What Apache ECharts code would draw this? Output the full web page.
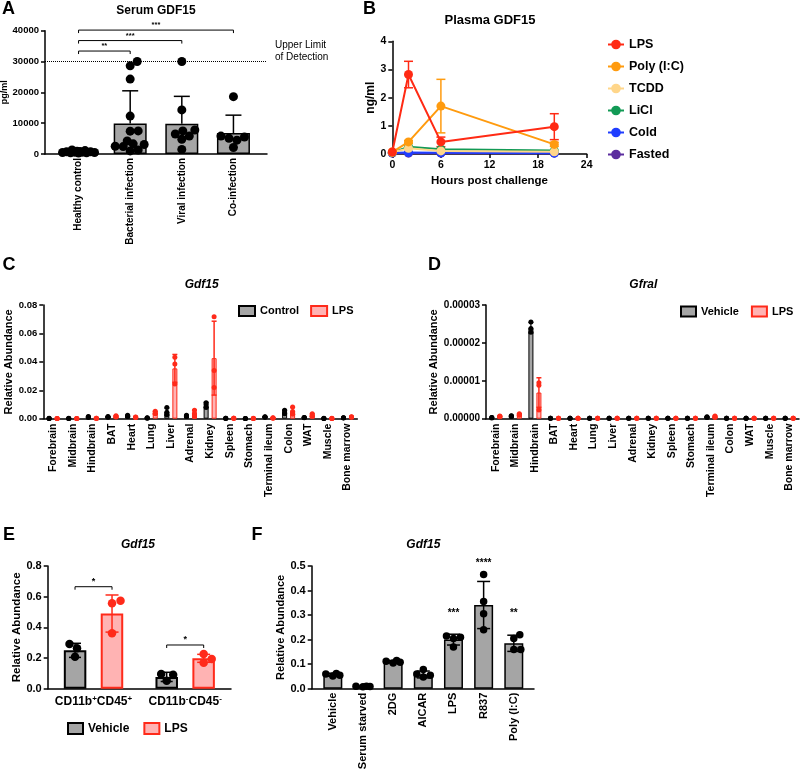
<!DOCTYPE html>
<html><head><meta charset="utf-8">
<script src="https://cdn.jsdelivr.net/npm/echarts@6/dist/echarts.min.js"></script>
<style>html,body{margin:0;padding:0;background:#fff}#c{width:800px;height:775px}</style>
</head><body><div id="c"></div>
<script>
// ---------------- Panel A : Serum GDF15 ----------------
const aCats = ['Healthy control', 'Bacterial infection', 'Viral infection', 'Co-infection'];
const aMeans = [650, 9900, 9800, 6800];
const aSD = [300, 10600, 8900, 5800];
const aDotsHealthy = [500, 800, 600, 300, 400, 500, 700, 400, 600, 900, 1100, 1300, 700];
const aDotsBacterial = [4200, 1300, 28600, 7400, 2500, 2400, 24300, 12300, 3300, 1000, 30000, 7500, 3100];
const aDotsViral = [4800, 7500, 7800, 30000, 14300, 1500, 5800, 6500];
const aDotsCo = [4500, 5800, 18600, 2100, 5500, 5100];
const aUpperLimit = 30000;
const aSigFrom = [0, 0, 0];
const aSigTo = [3, 2, 1];
const aSigY = [40200, 36800, 33400];
const aSigText = ['***', '***', '**'];
const aYTicks = [0, 40000, 10000];

// ---------------- Panel B : Plasma GDF15 ----------------
const bHours = [0, 2, 6, 20];
const bLPS = [0.07, 2.82, 0.43, 0.97];
const bLPSErr = [0, 0.47, 0.17, 0.46];
const bPoly = [0.07, 0.43, 1.70, 0.34];
const bPolyErr = [0, 0.05, 0.95, 0.07];
const bTCDD = [0.06, 0.20, 0.11, 0.08];
const bLiCl = [0.05, 0.26, 0.17, 0.12];
const bCold = [0.04, 0.05, 0.04, 0.03];
const bFasted = [0.03, 0.03, 0.03, 0.03];

// ---------------- Panel C : Gdf15 tissues ----------------
const tissues = ['Forebrain', 'Midbrain', 'Hindbrain', 'BAT', 'Heart', 'Lung', 'Liver', 'Adrenal', 'Kidney', 'Spleen', 'Stomach', 'Terminal ileum', 'Colon', 'WAT', 'Muscle', 'Bone marrow'];
const cCtrl = [0.0002, 0.0002, 0.0012, 0.0012, 0.0019, 0.0005, 0.0050, 0.0019, 0.0097, 0.0003, 0.0001, 0.0012, 0.0048, 0.0008, 0.0002, 0.0006];
const cCtrlSD = [0, 0, 0.0003, 0.0003, 0.0005, 0.0001, 0.0025, 0.0005, 0.0018, 0, 0, 0.0002, 0.0013, 0.0001, 0, 0.0001];
const cLPS = [0.0002, 0.0002, 0.0003, 0.0016, 0.0011, 0.0042, 0.0354, 0.0038, 0.0426, 0.0004, 0.0002, 0.0005, 0.0055, 0.0025, 0.0002, 0.0012];
const cLPSSD = [0, 0, 0.0001, 0.0005, 0.0002, 0.0009, 0.0098, 0.0023, 0.0260, 0, 0, 0.0001, 0.0025, 0.0009, 0, 0.0002];
const cCtrlDots = [[0.0002,0.0002,0.0003],[0.0002,0.0002,0.0003],[0.0015,0.0008,0.0012],[0.0015,0.0010,0.0012],[0.0025,0.0015,0.0018],[0.0006,0.0004,0.0005],[0.0078,0.0045,0.0028],[0.0025,0.0018,0.0015],[0.0112,0.0102,0.0078],[0.0003,0.0002,0.0003],[0.0001,0.0001,0.0002],[0.0014,0.0010,0.0012],[0.0060,0.0048,0.0035],[0.0009,0.0007,0.0008],[0.0002,0.0002,0.0003],[0.0007,0.0005,0.0006]];
const cLPSDots = [[0.0002,0.0001,0.0002],[0.0002,0.0001,0.0002],[0.0003,0.0002,0.0004],[0.0021,0.0014,0.0012],[0.0012,0.0009,0.0011],[0.0052,0.0040,0.0035],[0.0432,0.0385,0.0244],[0.0060,0.0038,0.0015],[0.0718,0.0340,0.0220],[0.0004,0.0003,0.0004],[0.0002,0.0002,0.0003],[0.0006,0.0004,0.0005],[0.0082,0.0050,0.0032],[0.0035,0.0022,0.0018],[0.0002,0.0002,0.0003],[0.0014,0.0010,0.0012]];

// ---------------- Panel D : Gfral tissues ----------------
const dVeh = [3e-7, 7e-7, 2.40e-5, 1e-7, 1e-7, 1e-7, 1e-7, 1e-7, 1e-7, 1e-7, 1e-7, 4e-7, 1e-7, 1e-7, 1e-7, 1e-7];
const dVehSD = [0, 1e-7, 1.4e-6, 0, 0, 0, 0, 0, 0, 0, 0, 1e-7, 0, 0, 0, 0];
const dLPS = [6e-7, 1.1e-6, 6.9e-6, 1e-7, 1e-7, 1e-7, 1e-7, 1e-7, 1e-7, 1e-7, 1e-7, 5e-7, 1e-7, 1e-7, 1e-7, 1e-7];
const dLPSSD = [1e-7, 2e-7, 3.9e-6, 0, 0, 0, 0, 0, 0, 0, 0, 2e-7, 0, 0, 0, 0];
const dVehDots = [[3e-7,2e-7,3e-7],[8e-7,6e-7,7e-7],[2.55e-5,2.38e-5,2.28e-5],[1e-7,1e-7,1e-7],[1e-7,1e-7,1e-7],[1e-7,1e-7,1e-7],[1e-7,1e-7,1e-7],[1e-7,1e-7,1e-7],[1e-7,1e-7,1e-7],[1e-7,1e-7,1e-7],[1e-7,1e-7,1e-7],[5e-7,3e-7,4e-7],[1e-7,1e-7,1e-7],[1e-7,1e-7,1e-7],[1e-7,1e-7,1e-7],[1e-7,1e-7,1e-7]];
const dLPSDots = [[7e-7,5e-7,6e-7],[1.3e-6,1.0e-6,1.0e-6],[9.5e-6,8.8e-6,2.3e-6],[1e-7,1e-7,1e-7],[1e-7,1e-7,1e-7],[1e-7,1e-7,1e-7],[1e-7,1e-7,1e-7],[1e-7,1e-7,1e-7],[1e-7,1e-7,1e-7],[1e-7,1e-7,1e-7],[1e-7,1e-7,1e-7],[7e-7,4e-7,4e-7],[1e-7,1e-7,1e-7],[1e-7,1e-7,1e-7],[1e-7,1e-7,1e-7],[1e-7,1e-7,1e-7]];

// ---------------- Panel E : sorted cells ----------------
const eCats = ['CD11b+CD45+', 'CD11b-CD45-'];
const eVeh = [0.25, 0.077];
const eVehSD = [0.046, 0.030];
const eLPS = [0.49, 0.198];
const eLPSSD = [0.121, 0.026];
const eVehDots = [[0.263, 0.209, 0.291], [0.052, 0.096, 0.091]];
const eLPSDots = [[0.557, 0.361, 0.574], [0.226, 0.170, 0.194]];
const eSigY = [0.665, 0.285];
const eSigText = ['*', '*'];

// ---------------- Panel F : treatments ----------------
const fCats = ['Vehicle', 'Serum starved', '2DG', 'AICAR', 'LPS', 'R837', 'Poly (I:C)'];
const fMeans = [0.057, 0.009, 0.110, 0.058, 0.200, 0.341, 0.185];
const fSD = [0.006, 0.002, 0.005, 0.014, 0.022, 0.096, 0.033];
const fDots = [[0.052, 0.062, 0.060, 0.055], [0.008, 0.010, 0.009, 0.010], [0.105, 0.115, 0.112, 0.108], [0.048, 0.055, 0.060, 0.078], [0.205, 0.170, 0.215, 0.210], [0.355, 0.305, 0.465, 0.240], [0.205, 0.160, 0.220, 0.160]];
const fSigCat = [4, 5, 6];
const fSigY = [0.306, 0.513, 0.306];
const fSigText = ['***', '****', '**'];

// ================= helpers =================
const FF = '"Liberation Sans", Arial, Helvetica, sans-serif';
const BLACK = '#000';
const GREY = '#a5a5a5';
const PINK = '#ffb3b3';
const RED = '#ff2a1a';
const isInt = v => Math.abs(v - Math.round(v)) < 1e-6;
const tl = (fs) => ({ fontFamily: FF, fontWeight: 'bold', fontSize: fs, color: BLACK });

function swarm(vals, ppu, diam, half) {
  const idx = vals.map((v, i) => i).sort((a, b) => vals[a] - vals[b]);
  const placed = [], offs = new Array(vals.length).fill(0);
  const cands = [0];
  for (let s = 0.5; s <= half + 1e-9; s += 0.5) cands.push(s, -s);
  idx.forEach(i => {
    const y = vals[i] * ppu;
    let best = 0, bestD = -1;
    for (const x of cands) {
      let md = Infinity;
      for (const p of placed) { const d = Math.hypot(p[0] - x, p[1] - y); if (d < md) md = d; }
      if (md >= diam) { best = x; bestD = md; break; }
      if (md > bestD) { bestD = md; best = x; }
    }
    placed.push([best, y]); offs[i] = best;
  });
  return offs;
}

function dotSeries(ai, groups, ppu, diam, half, dx, color, size) {
  const data = [];
  groups.forEach((vals, gi) => {
    const offs = swarm(vals, ppu, diam, half);
    vals.forEach((v, k) => data.push({ value: [gi, v], symbolOffset: [dx + offs[k], 0] }));
  });
  return { type: 'scatter', xAxisIndex: ai, yAxisIndex: ai, data, symbol: 'circle', symbolSize: size,
    itemStyle: { color, opacity: 1 }, silent: true, z: 4, clip: false, animation: false };
}

function errSeries(ai, items, dx, cap, color, lw, upperOnly) {
  return { type: 'custom', xAxisIndex: ai, yAxisIndex: ai, silent: true, z: 3, clip: false, animation: false,
    data: items, encode: { x: 0, y: [1, 2] },
    renderItem: (p, api) => {
      const x = api.value(0), lo = api.value(1), hi = api.value(2);
      const a = api.coord([x, lo]), b = api.coord([x, hi]);
      const cx = a[0] + dx, st = { stroke: color, lineWidth: lw };
      const ch = [
        { type: 'line', shape: { x1: cx, y1: a[1], x2: cx, y2: b[1] }, style: st },
        { type: 'line', shape: { x1: cx - cap / 2, y1: b[1], x2: cx + cap / 2, y2: b[1] }, style: st }
      ];
      if (!upperOnly) ch.push({ type: 'line', shape: { x1: cx - cap / 2, y1: a[1], x2: cx + cap / 2, y2: a[1] }, style: st });
      return { type: 'group', children: ch };
    } };
}

function meanSdItems(means, sds) {
  const out = [];
  means.forEach((m, i) => { if (sds[i] > 0) out.push([i, Math.max(0, m - sds[i]), m + sds[i]]); });
  return out;
}

function bracketSeries(ai, from, to, ys, texts, dxFrom, dxTo, fs) {
  return { type: 'custom', xAxisIndex: ai, yAxisIndex: ai, silent: true, z: 5, clip: false, animation: false,
    data: from.map((f, i) => [f, to[i], ys[i]]), encode: { x: [0, 1], y: 2 },
    renderItem: (p, api) => {
      const a = api.coord([api.value(0), api.value(2)]), b = api.coord([api.value(1), api.value(2)]);
      const x1 = a[0] + dxFrom, x2 = b[0] + dxTo, y = a[1];
      return { type: 'group', children: [
        { type: 'polyline', shape: { points: [[x1, y + 3], [x1, y], [x2, y], [x2, y + 3]] }, style: { stroke: BLACK, lineWidth: 1, fill: null } },
        { type: 'text', style: { text: texts[p.dataIndex], x: (x1 + x2) / 2, y: y - 1, align: 'center', verticalAlign: 'bottom',
          fontFamily: FF, fontSize: fs, fontWeight: 'bold', fill: BLACK } }
      ] };
    } };
}

function textSeries(ai, xs, ys, texts, fs) {
  return { type: 'custom', xAxisIndex: ai, yAxisIndex: ai, silent: true, z: 5, clip: false, animation: false,
    data: xs.map((x, i) => [x, ys[i]]), encode: { x: 0, y: 1 },
    renderItem: (p, api) => {
      const c = api.coord([api.value(0), api.value(1)]);
      return { type: 'text', style: { text: texts[p.dataIndex], x: c[0], y: c[1], align: 'center', verticalAlign: 'middle',
        fontFamily: FF, fontSize: fs, fontWeight: 'bold', fill: BLACK } };
    } };
}

const axLine = { show: true, onZero: false, lineStyle: { color: BLACK, width: 1.5 } };
const axTick = { show: true, length: 4, lineStyle: { color: BLACK, width: 1.5 } };

function yAx(gi, min, max, interval, fmt, name, gap, fs, nfs) {
  return { gridIndex: gi, type: 'value', min, max, interval, axisLine: axLine, axisTick: axTick,
    splitLine: { show: false }, axisLabel: Object.assign({ margin: 6, formatter: fmt }, tl(fs)),
    name, nameLocation: 'middle', nameGap: gap, nameTextStyle: tl(nfs) };
}

// ================= grids =================
const grids = [
  { left: 45, top: 30.7, width: 222, height: 123.3 },
  { left: 392.3, top: 41.3, width: 194.4, height: 112.7 },
  { left: 43.3, top: 305, width: 314, height: 113.7 },
  { left: 486, top: 305, width: 313, height: 113.7 },
  { left: 47.7, top: 566, width: 183.3, height: 122.7 },
  { left: 311.7, top: 566, width: 222.3, height: 122.7 }
].map(g => Object.assign({ containLabel: false, outerBoundsMode: 'none' }, g));

const xAxes = [
  { gridIndex: 0, type: 'value', min: -0.65, max: 3.65, minInterval: 1, maxInterval: 1, axisLine: axLine, axisTick: { show: false },
    splitLine: { show: false }, axisLabel: Object.assign({ rotate: 90, margin: 4, formatter: v => isInt(v) ? (aCats[Math.round(v)] || '') : '' }, tl(10)) },
  { gridIndex: 1, type: 'value', min: 0, max: 24, interval: 6, axisLine: axLine, axisTick: axTick, splitLine: { show: false },
    axisLabel: Object.assign({ margin: 6 }, tl(10.5)), name: 'Hours post challenge', nameLocation: 'middle', nameGap: 21, nameTextStyle: tl(11.5) },
  { gridIndex: 2, type: 'category', data: tissues, boundaryGap: true, axisLine: axLine, axisTick: { show: false },
    axisLabel: Object.assign({ rotate: 90, margin: 5, interval: 0 }, tl(10.5)) },
  { gridIndex: 3, type: 'category', data: tissues, boundaryGap: true, axisLine: axLine, axisTick: { show: false },
    axisLabel: Object.assign({ rotate: 90, margin: 5, interval: 0 }, tl(10.5)) },
  { gridIndex: 4, type: 'category', data: eCats, boundaryGap: true, axisLine: axLine, axisTick: { show: false },
    axisLabel: { margin: 6, interval: 0,
      formatter: v => v.split(/([+\-])/).map(t => (t === '+' || t === '-') ? '{s|' + t + '}' : (t ? '{n|' + t + '}' : '')).join(''),
      rich: { n: Object.assign({ lineHeight: 14 }, tl(12)), s: Object.assign({ lineHeight: 8, verticalAlign: 'top' }, tl(8)) } } },
  { gridIndex: 5, type: 'value', min: -0.7, max: 6.67, minInterval: 1, maxInterval: 1, axisLine: axLine, axisTick: { show: false },
    splitLine: { show: false }, axisLabel: Object.assign({ rotate: 90, margin: 4, formatter: v => isInt(v) ? (fCats[Math.round(v)] || '') : '' }, tl(11)) }
];

const yAxes = [
  yAx(0, aYTicks[0], aYTicks[1], aYTicks[2], v => String(v), 'pg/ml', 31, 9.5, 9),
  yAx(1, 0, 4, 1, v => String(v), 'ng/ml', 13, 10.5, 12),
  yAx(2, 0, 0.08, 0.02, v => v.toFixed(2), 'Relative Abundance', 25, 9.5, 11),
  yAx(3, 0, 0.00003, 0.00001, v => v.toFixed(5), 'Relative Abundance', 41, 10, 11),
  yAx(4, 0, 0.8, 0.2, v => v.toFixed(1), 'Relative Abundance', 23, 11, 11.5),
  yAx(5, 0, 0.5, 0.1, v => v.toFixed(1), 'Relative Abundance', 22, 11, 11)
];

const series = [];

// ---- A
series.push({ type: 'bar', name: 'A:bars', xAxisIndex: 0, yAxisIndex: 0, barWidth: 33, z: 2, animation: false,
  data: aMeans.map((m, i) => [i, m]), itemStyle: { color: GREY, borderColor: BLACK, borderWidth: 1.5 },
  markLine: { silent: true, symbol: 'none', animation: false, label: { show: false },
    lineStyle: { type: 'dotted', color: BLACK, width: 1 }, data: [{ yAxis: aUpperLimit }] } });
series.push(errSeries(0, aMeans.map((m, i) => [i, m, m + aSD[i]]), 0, 16, BLACK, 1.5, true));
series.push(dotSeries(0, [aDotsHealthy, aDotsBacterial, aDotsViral, aDotsCo], 123.3 / 40000, 8, 16, 0, BLACK, 9));
series.push(bracketSeries(0, aSigFrom, aSigTo, aSigY, aSigText, 0, 0, 7.5));

// ---- B
const bSets = [
  ['B:Fasted', bFasted, '#5b2d9e'],
  ['B:Cold', bCold, '#1f3dff'],
  ['B:LiCl', bLiCl, '#129a55'],
  ['B:TCDD', bTCDD, '#ffd68a'],
  ['B:Poly (I:C)', bPoly, '#ff9b0f'],
  ['B:LPS', bLPS, '#ff2a14']
];
bSets.forEach(([name, vals, color], k) => {
  series.push({ type: 'line', name, xAxisIndex: 1, yAxisIndex: 1, data: bHours.map((h, i) => [h, vals[i]]),
    symbol: 'circle', symbolSize: 9, z: 3 + k * 0.1, animation: false,
    lineStyle: { color, width: 2 }, itemStyle: { color, borderWidth: 0 } });
});
series.push(errSeries(1, bHours.map((h, i) => [h, bPoly[i] - bPolyErr[i], bPoly[i] + bPolyErr[i]]).filter((d, i) => bPolyErr[i] > 0), 0, 9, '#ff9b0f', 1.5, false));
series.push(errSeries(1, bHours.map((h, i) => [h, bLPS[i] - bLPSErr[i], bLPS[i] + bLPSErr[i]]).filter((d, i) => bLPSErr[i] > 0), 0, 9, '#ff2a14', 1.5, false));

// ---- C
series.push({ type: 'bar', name: 'C:Control', xAxisIndex: 2, yAxisIndex: 2, data: cCtrl, barWidth: 5, barGap: '60%', z: 2, animation: false,
  itemStyle: { color: GREY, borderColor: BLACK, borderWidth: 1 } });
series.push({ type: 'bar', name: 'C:LPS', xAxisIndex: 2, yAxisIndex: 2, data: cLPS, barWidth: 5, barGap: '60%', z: 2, animation: false,
  itemStyle: { color: PINK, borderColor: RED, borderWidth: 1 } });
series.push(errSeries(2, meanSdItems(cCtrl, cCtrlSD), -4, 5, BLACK, 1.2, false));
series.push(errSeries(2, meanSdItems(cLPS, cLPSSD), 4, 5, RED, 1.5, false));
series.push(dotSeries(2, cCtrlDots, 1, 1, 0, -4, BLACK, 5));
series.push(dotSeries(2, cLPSDots, 1, 1, 0, 4, RED, 5));

// ---- D
series.push({ type: 'bar', name: 'D:Vehicle', xAxisIndex: 3, yAxisIndex: 3, data: dVeh, barWidth: 5, barGap: '60%', z: 2, animation: false,
  itemStyle: { color: GREY, borderColor: BLACK, borderWidth: 1 } });
series.push({ type: 'bar', name: 'D:LPS', xAxisIndex: 3, yAxisIndex: 3, data: dLPS, barWidth: 5, barGap: '60%', z: 2, animation: false,
  itemStyle: { color: PINK, borderColor: RED, borderWidth: 1 } });
series.push(errSeries(3, meanSdItems(dVeh, dVehSD), -4, 5, BLACK, 1.2, false));
series.push(errSeries(3, meanSdItems(dLPS, dLPSSD), 4, 5, RED, 1.5, false));
series.push(dotSeries(3, dVehDots, 1, 1, 0, -4, BLACK, 5));
series.push(dotSeries(3, dLPSDots, 1, 1, 0, 4, RED, 5));

// ---- E
series.push({ type: 'bar', name: 'E:Vehicle', xAxisIndex: 4, yAxisIndex: 4, data: eVeh, barWidth: 22.5, barGap: '64%', z: 2, animation: false,
  itemStyle: { color: GREY, borderColor: BLACK, borderWidth: 2 } });
series.push({ type: 'bar', name: 'E:LPS', xAxisIndex: 4, yAxisIndex: 4, data: eLPS, barWidth: 22.5, barGap: '64%', z: 2, animation: false,
  itemStyle: { color: PINK, borderColor: RED, borderWidth: 2 } });
series.push(errSeries(4, meanSdItems(eVeh, eVehSD), -18.5, 12, BLACK, 1.5, false));
series.push(errSeries(4, meanSdItems(eLPS, eLPSSD), 18.5, 13, RED, 1.5, false));
series.push(dotSeries(4, eVehDots, 122.7 / 0.8, 8.5, 9, -18.5, BLACK, 8.5));
series.push(dotSeries(4, eLPSDots, 122.7 / 0.8, 8.5, 9, 18.5, RED, 8.5));
series.push(bracketSeries(4, [0, 1], [0, 1], eSigY, eSigText, -18.5, 18.5, 9));

// ---- F
series.push({ type: 'bar', name: 'F:bars', xAxisIndex: 5, yAxisIndex: 5, barWidth: 19, z: 2, animation: false,
  data: fMeans.map((m, i) => [i, m]), itemStyle: { color: GREY, borderColor: BLACK, borderWidth: 1.5 } });
series.push(errSeries(5, meanSdItems(fMeans, fSD), 0, 13, BLACK, 1.5, false));
series.push(dotSeries(5, fDots, 122.7 / 0.5, 7, 7, 0, BLACK, 7.5));
series.push(textSeries(5, fSigCat, fSigY, fSigText, 10));

// ================= text (letters, titles) =================
function T(text, x, y, font, align) {
  return { type: 'text', x, y, z: 100, silent: true,
    style: { text, font: font + ' ' + FF, fill: BLACK, align: align || 'center', verticalAlign: 'middle' } };
}
const graphic = [
  T('A', 8.5, 9.5, 'bold 18px'), T('B', 369.5, 9.5, 'bold 18px'), T('C', 9, 265, 'bold 18px'),
  T('D', 434.5, 265, 'bold 18px'), T('E', 9, 535, 'bold 18px'), T('F', 257, 535, 'bold 18px'),
  T('Serum GDF15', 156, 11, 'bold 12px'),
  T('Plasma GDF15', 490, 20, 'bold 13px'),
  T('Gdf15', 201.7, 285, 'italic bold 12px'),
  T('Gfral', 643.3, 285, 'italic bold 12px'),
  T('Gdf15', 138, 545, 'italic bold 12px'),
  T('Gdf15', 423.3, 545, 'italic bold 12px'),
  T('Upper Limit', 275, 45, '10px', 'left'),
  T('of Detection', 275, 57, '10px', 'left')
];

const legendText = fs => ({ fontFamily: FF, fontWeight: 'bold', fontSize: fs, color: BLACK });
const legends = [
  { data: ['B:LPS', 'B:Poly (I:C)', 'B:TCDD', 'B:LiCl', 'B:Cold', 'B:Fasted'], orient: 'vertical', left: 607, top: 38,
    itemWidth: 16, itemHeight: 12, itemGap: 9, padding: 0, selectedMode: false, formatter: n => n.slice(2), textStyle: legendText(12.5) },
  { data: ['C:Control', 'C:LPS'], left: 238, top: 305, icon: 'rect', itemWidth: 16, itemHeight: 10, itemGap: 11, padding: 0,
    selectedMode: false, formatter: n => n.slice(2), textStyle: legendText(11) },
  { data: ['D:Vehicle', 'D:LPS'], left: 680, top: 305.5, icon: 'rect', itemWidth: 15, itemHeight: 10, itemGap: 12, padding: 0,
    selectedMode: false, formatter: n => n.slice(2), textStyle: legendText(11) },
  { data: ['E:Vehicle', 'E:LPS'], left: 67, top: 722, icon: 'rect', itemWidth: 15, itemHeight: 11, itemGap: 14, padding: 0,
    selectedMode: false, formatter: n => n.slice(2), textStyle: legendText(12) }
];

const chart = echarts.init(document.getElementById('c'), null, { renderer: 'canvas' });
chart.setOption({
  backgroundColor: '#fff',
  animation: false,
  textStyle: { fontFamily: FF },
  grid: grids, xAxis: xAxes, yAxis: yAxes, series, graphic, legend: legends,
  tooltip: { show: false }
});
</script></body></html>
